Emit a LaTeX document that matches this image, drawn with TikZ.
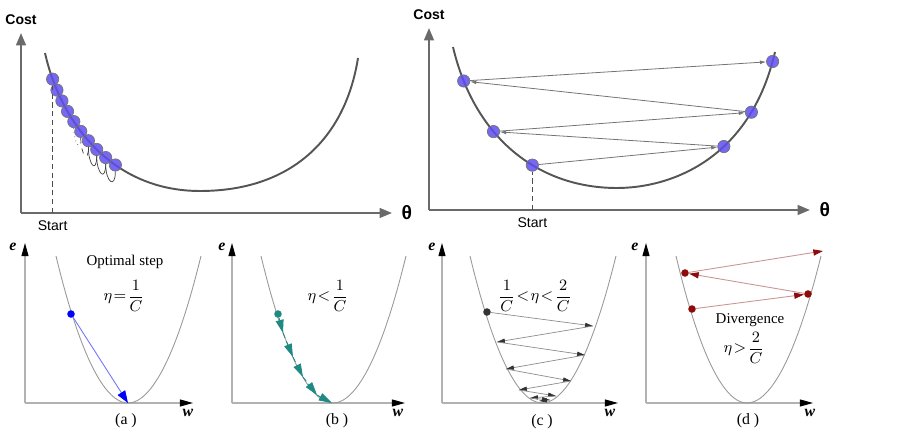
\documentclass[tikz,border=0pt]{standalone}
\usepackage{fontspec}
\usepackage{amsmath}
\setmainfont{Liberation Serif}
\newfontfamily\arialfont{Liberation Sans}
\usetikzlibrary{arrows.meta, positioning, calc}

\definecolor{curvegray}{HTML}{555555}
\definecolor{axisgray}{HTML}{6A6A6A}
\definecolor{ballblue}{HTML}{5F4EF0}
\definecolor{dotteal}{HTML}{1F8A84}
\definecolor{dotred}{HTML}{8E0B0B}
\definecolor{linered}{HTML}{C99595}

\newcommand{\tightmath}{\thickmuskip=1.5mu\relax\medmuskip=1mu\relax}

\begin{document}
\begin{tikzpicture}[
  x=0.02cm, y=-0.02cm,
  bigaxis/.style={draw=axisgray, line width=1.2pt,
                  -{Triangle[length=7pt, width=5.5pt]}},
  costcurve/.style={draw=curvegray, line width=1.1pt},
  ball/.style={circle, draw=black!55, line width=0.4pt, fill=ballblue,
               fill opacity=0.85, inner sep=0pt, minimum size=7pt},
  hop/.style={draw=black!75, line width=0.4pt},
  jump/.style={draw=black!55, line width=0.45pt,
               -{Latex[length=3.5pt, width=2.2pt]}},
  startline/.style={draw=black!70, line width=0.6pt,
                    dash pattern=on 3pt off 2pt},
  toplabel/.style={font=\arialfont\bfseries\fontsize{8}{9}\selectfont},
  startlabel/.style={font=\arialfont\fontsize{8}{9}\selectfont},
  thetalabel/.style={font=\arialfont\bfseries\fontsize{11}{12}\selectfont},
  smallaxis/.style={draw=black!30, line width=0.6pt,
                    -{Triangle[length=7.5pt, width=4pt, color=black]}},
  bowl/.style={draw=black!40, line width=0.5pt},
  axlabel/.style={font=\bfseries\itshape\fontsize{9}{10}\selectfont},
  note/.style={font=\fontsize{8.5}{10}\selectfont},
  mathnote/.style={font=\fontsize{9.5}{11}\selectfont\tightmath},
  panelcap/.style={font=\fontsize{9}{10}\selectfont},
  stepdot/.style={circle, inner sep=0pt, minimum size=4.3pt},
  stepa/.style={draw=blue!55, line width=0.5pt,
                -{Triangle[length=7pt, width=5pt, color=blue]}},
  stepb/.style={draw=dotteal, densely dashed, line width=0.5pt,
                -{Triangle[length=7.5pt, width=4.5pt]}},
  stepc/.style={draw=black!45, line width=0.4pt,
                -{Triangle[length=4.5pt, width=2.4pt, color=black!80]}},
  stepd/.style={draw=linered, line width=0.5pt,
                -{Triangle[length=5.5pt, width=3.5pt, color=dotred]}},
]
\useasboundingbox (0,0) rectangle (897,445);

% ---- 左上: 学习率过小 ----
\coordinate (o1) at (21,213);
\coordinate (x1) at (392,213);
\coordinate (y1) at (21,33);
\draw[bigaxis] (o1) -- (x1);
\draw[bigaxis] (o1) -- (y1);
\node[toplabel, above=1.5pt of y1] (cost1) {Cost};
\node[thetalabel, right=2pt of x1] (theta1) {θ};

\draw[costcurve] (45,53) .. controls (60,120) and (110,191) .. (200,191)
  node[ball, pos=0.13]  (b1) {}
  node[ball, pos=0.185] (b2) {}
  node[ball, pos=0.24]  (b3) {}
  node[ball, pos=0.295] (b4) {}
  node[ball, pos=0.35]  (b5) {}
  node[ball, pos=0.405] (b6) {}
  node[ball, pos=0.46]  (b7) {}
  node[ball, pos=0.515] (b8) {}
  node[ball, pos=0.57]  (b9) {}
  node[ball, pos=0.625] (b10) {}
  .. controls (290,191) and (345,140) .. (358,58);

\draw[hop, dotted] (b5.south) .. controls +(0,15) and +(0,15) .. (b6.south);
\draw[hop, dashed] (b6.south) .. controls +(0,17) and +(0,17) .. (b7.south);
\draw[hop] (b7.south) .. controls +(0,18) and +(0,18) .. (b8.south);
\draw[hop] (b8.south) .. controls +(0,18) and +(0,18) .. (b9.south);
\draw[hop] (b9.south) .. controls +(0,18) and +(0,18) .. (b10.south);

\coordinate (s1) at (b1 |- o1);
\draw[startline] (s1) -- (b1);
\node[startlabel, below=1pt of s1] (start1) {Start};

% ---- 右上: 学习率过大 ----
\coordinate (o2) at (429,210);
\coordinate (x2) at (810,210);
\coordinate (y2) at (429,28);
\draw[bigaxis] (o2) -- (x2);
\draw[bigaxis] (o2) -- (y2);
\node[toplabel, above=1pt of y2] (cost2) {Cost};
\node[thetalabel, right=2pt of x2] (theta2) {θ};

\draw[costcurve] (453,47) .. controls (475,140) and (540,188) .. (617,188)
  node[ball, pos=0.13] (c1) {}
  node[ball, pos=0.37] (c2) {}
  node[ball, pos=0.6]  (c3) {}
  .. controls (670,188) and (750,160) .. (775,52)
  node[ball, pos=0.6]  (c4) {}
  node[ball, pos=0.78] (c5) {}
  node[ball, pos=0.97] (c6) {};

\draw[jump] (c3) -- (c4);
\draw[jump] (c4) -- (c2);
\draw[jump] (c2) -- (c5);
\draw[jump] (c5) -- (c1);
\draw[jump] (c1) -- (c6);

\coordinate (s2) at (c3 |- o2);
\draw[startline] (s2) -- (c3);
\node[startlabel, below=1pt of s2] (start2) {Start};

% ---- (a) 最优步长 ----
\coordinate (oa) at (25,403);
\coordinate (xa) at (193,403);
\coordinate (ya) at (25,243);
\draw[smallaxis] (oa) -- (xa);
\draw[smallaxis] (oa) -- (ya);
\node[axlabel] (ea) at (13,247) {e};
\node[axlabel] (wa) at (188,413) {w};
\draw[bowl] (56,256) parabola bend (128,403) (201,256);
\node[note] (opt) at (125,262) {Optimal step};
\node[mathnote] (etaa) at (124,296) {$\eta=\dfrac{1}{C}$};
\node[stepdot, fill=blue] (pa0) at (71,314) {};
\coordinate (pa1) at (128,403);
\draw[stepa] (pa0) -- (pa1);
\node[panelcap] (capa) at (126,421) {(a )};

% ---- (b) 步长过小 ----
\coordinate (ob) at (232,403);
\coordinate (xb) at (405,403);
\coordinate (yb) at (232,243);
\draw[smallaxis] (ob) -- (xb);
\draw[smallaxis] (ob) -- (yb);
\node[axlabel] (eb) at (222,247) {e};
\node[axlabel] (wb) at (398,413) {w};
\draw[bowl] (261,256) parabola bend (333,403) (406,256);
\node[mathnote] (etab) at (328,296) {$\eta<\dfrac{1}{C}$};
\node[stepdot, fill=dotteal] (pb0) at (278,314) {};
\coordinate (pb1) at (283,333);
\coordinate (pb2) at (293,357);
\coordinate (pb3) at (303,377);
\coordinate (pb4) at (317,395);
\coordinate (pb5) at (332,403);
\draw[stepb] (pb0) -- (pb1);
\draw[stepb] (pb1) -- (pb2);
\draw[stepb] (pb2) -- (pb3);
\draw[stepb] (pb3) -- (pb4);
\draw[stepb] (pb4) -- (pb5);
\node[panelcap] (capb) at (337,421) {(b )};

% ---- (c) 振荡收敛 ----
\coordinate (oc) at (442,403);
\coordinate (xc) at (618,403);
\coordinate (yc) at (442,243);
\draw[smallaxis] (oc) -- (xc);
\draw[smallaxis] (oc) -- (yc);
\node[axlabel] (ec) at (432,247) {e};
\node[axlabel] (wc) at (610,413) {w};
\draw[bowl] (470,256) parabola bend (542,403) (616,256);
\node[mathnote] (etac) at (535,296) {$\dfrac{1}{C}<\eta<\dfrac{2}{C}$};
\node[stepdot, fill=black!80] (pc0) at (487,312) {};
\coordinate (pc1) at (593,326);
\coordinate (pc2) at (497,342);
\coordinate (pc3) at (585,355);
\coordinate (pc4) at (506,369);
\coordinate (pc5) at (571,381);
\coordinate (pc6) at (519,390);
\coordinate (pc7) at (556,396);
\coordinate (pc8) at (530,398);
\coordinate (pc9) at (550,400);
\coordinate (pc10) at (539,401);
\draw[stepc] (pc0) -- (pc1);
\draw[stepc] (pc1) -- (pc2);
\draw[stepc] (pc2) -- (pc3);
\draw[stepc] (pc3) -- (pc4);
\draw[stepc] (pc4) -- (pc5);
\draw[stepc] (pc5) -- (pc6);
\draw[stepc] (pc6) -- (pc7);
\draw[stepc] (pc7) -- (pc8);
\draw[stepc] (pc8) -- (pc9);
\draw[stepc] (pc9) -- (pc10);
\node[panelcap] (capc) at (542,422) {(c )};

% ---- (d) 发散 ----
\coordinate (od) at (646,403);
\coordinate (xd) at (813,403);
\coordinate (yd) at (646,243);
\draw[smallaxis] (od) -- (xd);
\draw[smallaxis] (od) -- (yd);
\node[axlabel] (ed) at (635,247) {e};
\node[axlabel] (wd) at (810,413) {w};
\draw[bowl] (676,256) parabola bend (747,403) (821,256);
\node[note] (div) at (750,320) {Divergence};
\node[mathnote] (etad) at (744,348) {$\eta>\dfrac{2}{C}$};
\node[stepdot, fill=dotred] (pd0) at (692,309) {};
\node[stepdot, fill=dotred] (pd1) at (808,294) {};
\node[stepdot, fill=dotred] (pd2) at (685,273) {};
\coordinate (pd3) at (823,251);
\draw[stepd] (pd0) -- (pd1);
\draw[stepd] (pd1) -- (pd2);
\draw[stepd] (pd2) -- (pd3);
\node[panelcap] (capd) at (748,421) {(d )};

\end{tikzpicture}
\end{document}
